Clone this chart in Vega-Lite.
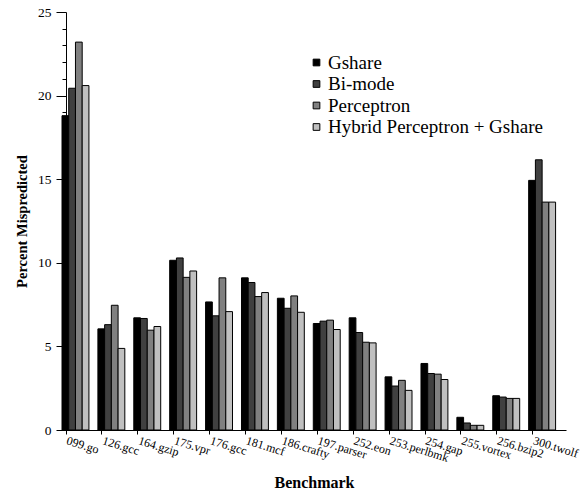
{
  "$schema": "https://vega.github.io/schema/vega-lite/v6.json",
  "width": 504,
  "height": 418,
  "autosize": {"type": "none"},
  "padding": {"left": 62, "top": 12, "right": 16, "bottom": 64},
  "background": "white",
  "config": {
    "view": {"stroke": null},
    "font": "Liberation Serif",
    "axis": {"domainColor": "black", "tickColor": "black", "labelColor": "black", "titleColor": "black", "grid": false, "labelFont": "Liberation Serif", "titleFont": "Liberation Serif"},
    "legend": {"labelFont": "Liberation Serif"}
  },
  "data": {"values": [
    {"benchmark": "099.go", "predictor": "Gshare", "value": 18.8},
    {"benchmark": "099.go", "predictor": "Bi-mode", "value": 20.44},
    {"benchmark": "099.go", "predictor": "Perceptron", "value": 23.2},
    {"benchmark": "099.go", "predictor": "Hybrid Perceptron + Gshare", "value": 20.6},
    {"benchmark": "126.gcc", "predictor": "Gshare", "value": 6.05},
    {"benchmark": "126.gcc", "predictor": "Bi-mode", "value": 6.3},
    {"benchmark": "126.gcc", "predictor": "Perceptron", "value": 7.46},
    {"benchmark": "126.gcc", "predictor": "Hybrid Perceptron + Gshare", "value": 4.88},
    {"benchmark": "164.gzip", "predictor": "Gshare", "value": 6.71},
    {"benchmark": "164.gzip", "predictor": "Bi-mode", "value": 6.67},
    {"benchmark": "164.gzip", "predictor": "Perceptron", "value": 5.97},
    {"benchmark": "164.gzip", "predictor": "Hybrid Perceptron + Gshare", "value": 6.19},
    {"benchmark": "175.vpr", "predictor": "Gshare", "value": 10.15},
    {"benchmark": "175.vpr", "predictor": "Bi-mode", "value": 10.29},
    {"benchmark": "175.vpr", "predictor": "Perceptron", "value": 9.13},
    {"benchmark": "175.vpr", "predictor": "Hybrid Perceptron + Gshare", "value": 9.51},
    {"benchmark": "176.gcc", "predictor": "Gshare", "value": 7.66},
    {"benchmark": "176.gcc", "predictor": "Bi-mode", "value": 6.83},
    {"benchmark": "176.gcc", "predictor": "Perceptron", "value": 9.1},
    {"benchmark": "176.gcc", "predictor": "Hybrid Perceptron + Gshare", "value": 7.08},
    {"benchmark": "181.mcf", "predictor": "Gshare", "value": 9.1},
    {"benchmark": "181.mcf", "predictor": "Bi-mode", "value": 8.82},
    {"benchmark": "181.mcf", "predictor": "Perceptron", "value": 7.98},
    {"benchmark": "181.mcf", "predictor": "Hybrid Perceptron + Gshare", "value": 8.22},
    {"benchmark": "186.crafty", "predictor": "Gshare", "value": 7.88},
    {"benchmark": "186.crafty", "predictor": "Bi-mode", "value": 7.28},
    {"benchmark": "186.crafty", "predictor": "Perceptron", "value": 8.02},
    {"benchmark": "186.crafty", "predictor": "Hybrid Perceptron + Gshare", "value": 7.04},
    {"benchmark": "197.parser", "predictor": "Gshare", "value": 6.37},
    {"benchmark": "197.parser", "predictor": "Bi-mode", "value": 6.51},
    {"benchmark": "197.parser", "predictor": "Perceptron", "value": 6.57},
    {"benchmark": "197.parser", "predictor": "Hybrid Perceptron + Gshare", "value": 6.01},
    {"benchmark": "252.eon", "predictor": "Gshare", "value": 6.71},
    {"benchmark": "252.eon", "predictor": "Bi-mode", "value": 5.83},
    {"benchmark": "252.eon", "predictor": "Perceptron", "value": 5.25},
    {"benchmark": "252.eon", "predictor": "Hybrid Perceptron + Gshare", "value": 5.21},
    {"benchmark": "253.perlbmk", "predictor": "Gshare", "value": 3.18},
    {"benchmark": "253.perlbmk", "predictor": "Bi-mode", "value": 2.63},
    {"benchmark": "253.perlbmk", "predictor": "Perceptron", "value": 2.97},
    {"benchmark": "253.perlbmk", "predictor": "Hybrid Perceptron + Gshare", "value": 2.37},
    {"benchmark": "254.gap", "predictor": "Gshare", "value": 3.98},
    {"benchmark": "254.gap", "predictor": "Bi-mode", "value": 3.38},
    {"benchmark": "254.gap", "predictor": "Perceptron", "value": 3.34},
    {"benchmark": "254.gap", "predictor": "Hybrid Perceptron + Gshare", "value": 3.02},
    {"benchmark": "255.vortex", "predictor": "Gshare", "value": 0.76},
    {"benchmark": "255.vortex", "predictor": "Bi-mode", "value": 0.42},
    {"benchmark": "255.vortex", "predictor": "Perceptron", "value": 0.28},
    {"benchmark": "255.vortex", "predictor": "Hybrid Perceptron + Gshare", "value": 0.28},
    {"benchmark": "256.bzip2", "predictor": "Gshare", "value": 2.05},
    {"benchmark": "256.bzip2", "predictor": "Bi-mode", "value": 1.97},
    {"benchmark": "256.bzip2", "predictor": "Perceptron", "value": 1.89},
    {"benchmark": "256.bzip2", "predictor": "Hybrid Perceptron + Gshare", "value": 1.89},
    {"benchmark": "300.twolf", "predictor": "Gshare", "value": 14.93},
    {"benchmark": "300.twolf", "predictor": "Bi-mode", "value": 16.16},
    {"benchmark": "300.twolf", "predictor": "Perceptron", "value": 13.63},
    {"benchmark": "300.twolf", "predictor": "Hybrid Perceptron + Gshare", "value": 13.63}
  ]},
  "mark": {"type": "bar", "stroke": "black", "strokeWidth": 1},
  "encoding": {
    "x": {
      "field": "benchmark",
      "type": "nominal",
      "sort": null,
      "scale": {"paddingInner": 0.25, "paddingOuter": 0.145, "align": 0},
      "axis": {
        "title": "Benchmark",
        "titleFontSize": 16,
        "titleFontWeight": "bold",
        "titleY": 44,
        "labelAngle": 17,
        "labelAlign": "left",
        "labelBaseline": "top",
        "labelFontSize": 12,
        "labelPadding": 1,
        "labelOffset": -7,
        "tickSize": 4,
        "bandPosition": 0.15,
        "domainWidth": 1,
        "labelOverlap": false
      }
    },
    "xOffset": {
      "field": "predictor",
      "type": "nominal",
      "sort": ["Gshare", "Bi-mode", "Perceptron", "Hybrid Perceptron + Gshare"],
      "scale": {"paddingInner": 0, "paddingOuter": 0}
    },
    "y": {
      "field": "value",
      "type": "quantitative",
      "scale": {"domain": [0, 25], "nice": false},
      "axis": {
        "title": "Percent Mispredicted",
        "titleFontSize": 14.5,
        "titleFontWeight": "bold",
        "titleX": -37,
        "values": [0,1,2,3,4,5,6,7,8,9,10,11,12,13,14,15,16,17,18,19,20,21,22,23,24,25],
        "labelExpr": "datum.value % 5 === 0 ? datum.label : ''",
        "tickSize": {"condition": {"test": "datum.value % 5 === 0", "value": 10}, "value": 4},
        "labelFontSize": 13.5,
        "labelPadding": 5,
        "offset": -4
      }
    },
    "fill": {
      "field": "predictor",
      "type": "nominal",
      "sort": ["Gshare", "Bi-mode", "Perceptron", "Hybrid Perceptron + Gshare"],
      "scale": {"domain": ["Gshare", "Bi-mode", "Perceptron", "Hybrid Perceptron + Gshare"], "range": ["#000000", "#404040", "#808080", "#c0c0c0"]},
      "legend": {
        "title": null,
        "orient": "none",
        "legendX": 245,
        "legendY": 41,
        "labelFontSize": 19,
        "labelLimit": 0,
        "symbolType": "square",
        "symbolSize": 45,
        "symbolStrokeColor": "black",
        "symbolStrokeWidth": 1,
        "rowPadding": 1.5,
        "labelOffset": 2,
        "padding": 0,
        "labelColor": "black"
      }
    }
  }
}
